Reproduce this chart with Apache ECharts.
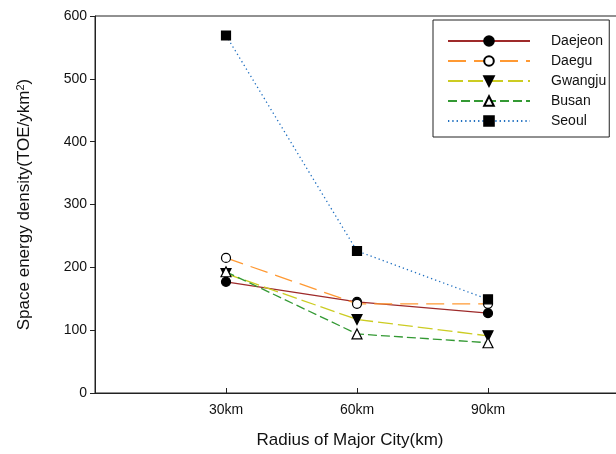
<!DOCTYPE html>
<html>
<head>
<meta charset="utf-8">
<script src="https://cdn.jsdelivr.net/npm/echarts@6/dist/echarts.min.js"></script>
<style>
html,body{margin:0;padding:0;background:#fff;}
#chart{width:616px;height:454px;}
</style>
</head>
<body>
<div id="chart"></div>
<script>
// Data
const radiusKm = [30, 60, 90];
const tickLabels = ['30km', '60km', '90km'];
const seriesNames = ['Daejeon', 'Daegu', 'Gwangju', 'Busan', 'Seoul'];
const daejeon = [177, 145, 127];
const daegu = [215, 142, 142];
const gwangju = [190, 117, 91];
const busan = [193, 94, 80];
const seoul = [569, 226, 149];
const yTicks = [0, 100, 200, 300, 400, 500, 600];

const FONT = 'Liberation Sans, Arial, Helvetica, sans-serif';
const pairs = vals => radiusKm.map((x, i) => [x, vals[i]]);
const labelFor = v => { const i = radiusKm.indexOf(v); return i >= 0 ? tickLabels[i] : ''; };

const styles = [
  {color: '#9e2a2a', type: 'solid', symbol: 'circle', fill: '#000', rot: 0, size: 9},
  {color: '#ff9933', type: [18, 8], symbol: 'circle', fill: '#fff', rot: 0, size: 9},
  {color: '#cccc22', type: [15, 5], symbol: 'triangle', fill: '#000', rot: 180, size: 10},
  {color: '#339933', type: [9, 4], symbol: 'triangle', fill: '#fff', rot: 0, size: 10},
  {color: '#1f6fc0', type: [1.3, 3], symbol: 'rect', fill: '#000', rot: 0, size: 9}
];
const values = [daejeon, daegu, gwangju, busan, seoul];

const series = seriesNames.map((name, k) => ({
  name: name,
  type: 'line',
  data: pairs(values[k]),
  symbol: styles[k].symbol,
  symbolSize: styles[k].size,
  symbolRotate: styles[k].rot,
  showAllSymbol: true,
  z: 2 + k,
  lineStyle: {color: styles[k].color, width: 1.3, type: styles[k].type},
  itemStyle: {color: styles[k].fill, borderColor: '#000', borderWidth: 1.2, opacity: 1},
  emphasis: {disabled: true},
  animation: false
}));

const chart = echarts.init(document.getElementById('chart'), null, {renderer: 'canvas'});
chart.setOption({
  animation: false,
  backgroundColor: '#fff',
  grid: {left: 95, top: 16, width: 524, height: 377, show: true, borderColor: '#222', borderWidth: 1,
         containLabel: false, outerBoundsMode: 'none'},
  legend: {
    orient: 'vertical',
    left: 433, top: 20,
    padding: [14, 3, 9, 14],
    itemWidth: 82, itemHeight: 12, itemGap: 6,
    borderColor: '#222', borderWidth: 1,
    data: seriesNames,
    textStyle: {fontFamily: FONT, fontSize: 14, color: '#111', padding: [0, 0, 0, 16]}
  },
  xAxis: {
    type: 'value', min: 0, max: 120, interval: 30,
    name: 'Radius of Major City(km)', nameLocation: 'middle', nameGap: 39,
    nameTextStyle: {fontFamily: FONT, fontSize: 17, color: '#111', padding: [0, 14, 0, 0]},
    axisLine: {show: true, lineStyle: {color: '#222', width: 1}},
    axisTick: {show: true, inside: true, length: 5, lineStyle: {color: '#222'}},
    axisLabel: {fontFamily: FONT, fontSize: 14, color: '#111', margin: 10, formatter: labelFor},
    splitLine: {show: false}
  },
  yAxis: {
    type: 'value', min: yTicks[0], max: yTicks[yTicks.length - 1], interval: 100,
    name: '{a|Space energy density(TOE/ykm}{s|2}{a|)}', nameLocation: 'middle', nameGap: 61, nameRotate: 90,
    nameTextStyle: {
      fontFamily: FONT, fontSize: 17, color: '#111',
      rich: {a: {fontFamily: FONT, fontSize: 17, color: '#111'}, s: {fontFamily: FONT, fontSize: 11, color: '#111', verticalAlign: 'top', padding: [0, 0, 8, 0]}}
    },
    axisLine: {show: true, lineStyle: {color: '#222', width: 1}},
    axisTick: {show: true, inside: false, length: 5, lineStyle: {color: '#222'}},
    axisLabel: {fontFamily: FONT, fontSize: 14, color: '#111', margin: 8},
    splitLine: {show: false}
  },
  series: series
});
</script>
</body>
</html>
